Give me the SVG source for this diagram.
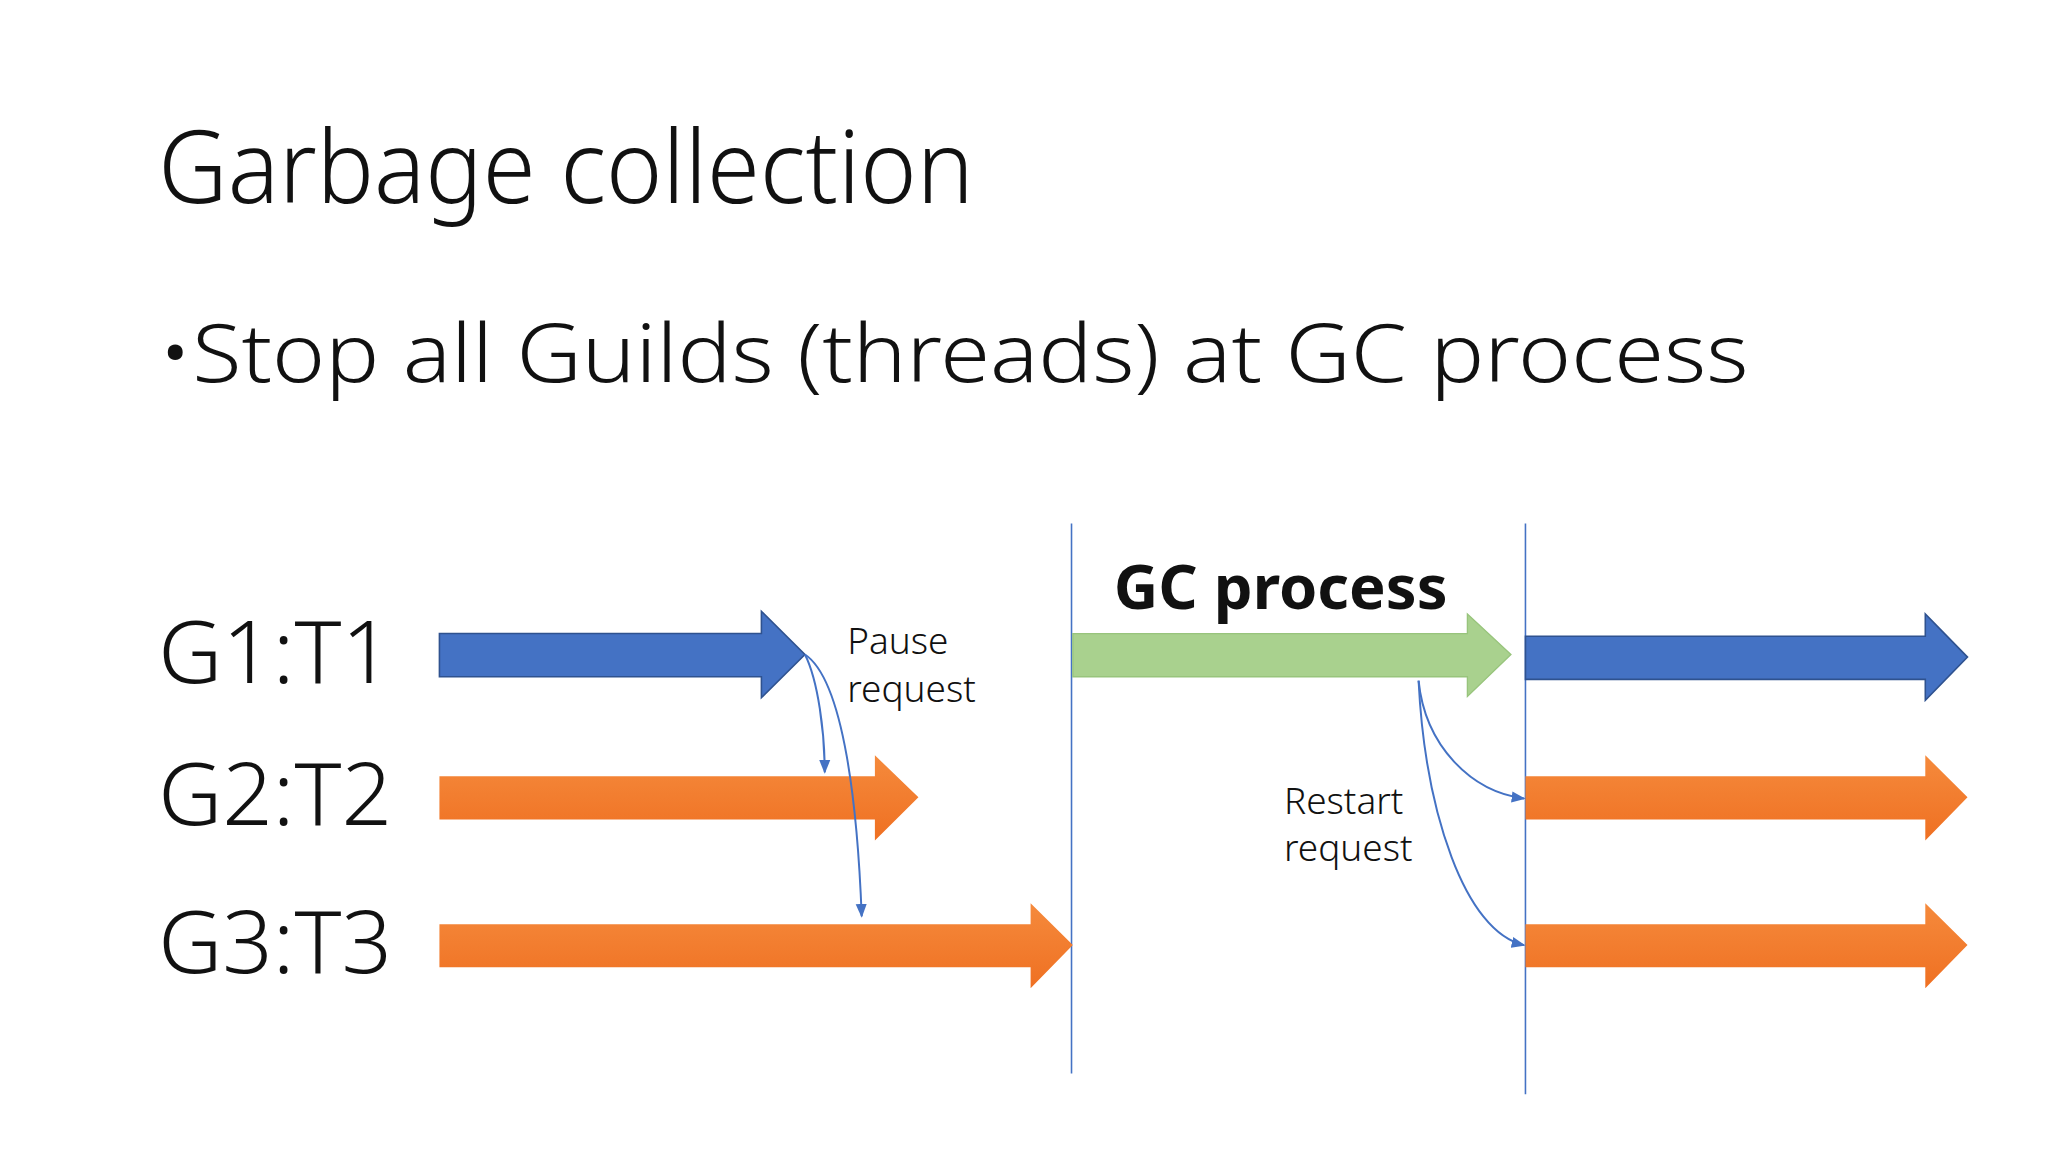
<svg xmlns="http://www.w3.org/2000/svg" width="2048" height="1152" viewBox="0 0 2048 1152">
<defs>
<linearGradient id="og" x1="0" y1="0" x2="0" y2="1"><stop offset="0" stop-color="#f58a3c"/><stop offset="1" stop-color="#ef7022"/></linearGradient>
<marker id="ah" viewBox="0 0 10 10" refX="9" refY="5" markerWidth="7" markerHeight="7" orient="auto"><path d="M0,1 L10,5 L0,9 Z" fill="#4472c4"/></marker>
<style>
.t{font-family:"Noto Sans","Liberation Sans",sans-serif;fill:#111}
.blue{fill:#4472c4;stroke:#2f528f;stroke-width:1.2}
.org{fill:url(#og)}
.grn{fill:#a9d18e;stroke:#98c47c;stroke-width:1}
.v{stroke:#4472c4;stroke-width:1.2}
.c{fill:none;stroke:#4472c4;stroke-width:1.5;marker-end:url(#ah)}
</style>
</defs>
<rect width="2048" height="1152" fill="#fff"/>
<g transform="scale(1.3196,1.309)">
<g id="title"><text class="t" x="120" y="155" font-size="78" font-weight="300" textLength="618" lengthAdjust="spacingAndGlyphs">Garbage collection</text></g>
<g id="bullet"><text class="t" x="120" y="292" font-size="62" font-weight="300" textLength="1205" lengthAdjust="spacingAndGlyphs">•Stop all Guilds (threads) at GC process</text></g>
<g id="labels" class="t" font-size="66" font-weight="300">
<text x="120" y="522" textLength="177" lengthAdjust="spacingAndGlyphs">G1:T1</text>
<text x="120" y="630" textLength="177" lengthAdjust="spacingAndGlyphs">G2:T2</text>
<text x="120" y="743" textLength="177" lengthAdjust="spacingAndGlyphs">G3:T3</text>
</g>
<g id="lines">
<line class="v" x1="812" y1="400" x2="812" y2="820"/>
<line class="v" x1="1156" y1="400" x2="1156" y2="836"/>
</g>
<g id="arrow-g1-t1"><path class="blue" d="M333,484 H577 V467 L610,500 L577,533 V517 H333 Z"/></g>
<g id="arrow-g2-t2"><path class="org" d="M333,593 H663 V577 L696,609 L663,642 V626 H333 Z"/></g>
<g id="arrow-g3-t3"><path class="org" d="M333,706 H781 V690 L813,722 L781,755 V739 H333 Z"/></g>
<g id="gc-arrow"><path class="grn" d="M813,484 H1112 V469 L1145,500 L1112,532 V517 H813 Z"/>
<text x="844" y="465" font-family="'Noto Sans','Liberation Sans',sans-serif" font-size="46" font-weight="bold" fill="#111" textLength="253" lengthAdjust="spacingAndGlyphs">GC process</text></g>
<g id="arrow-r1"><path class="blue" d="M1156,486 H1459 V469 L1491,502 L1459,535 V519 H1156 Z"/></g>
<g id="arrow-r2"><path class="org" d="M1156,593 H1459 V577 L1491,609 L1459,642 V626 H1156 Z"/></g>
<g id="arrow-r3"><path class="org" d="M1156,706 H1459 V690 L1491,722 L1459,755 V739 H1156 Z"/></g>
<g id="connectors">
<path class="c" d="M610,500 C620,520 625,560 625,590"/>
<path class="c" d="M610,500 C640,520 650,620 653,700"/>
<path class="c" d="M1075,520 C1080,570 1115,605 1155,610"/>
<path class="c" d="M1075,520 C1080,620 1110,712 1155,722"/>
</g>
<g id="notes" class="t" font-size="28" font-weight="300">
<text x="642" y="500">Pause</text>
<text x="642" y="536">request</text>
<text x="973" y="622">Restart</text>
<text x="973" y="658">request</text>
</g>
</g>
</svg>
